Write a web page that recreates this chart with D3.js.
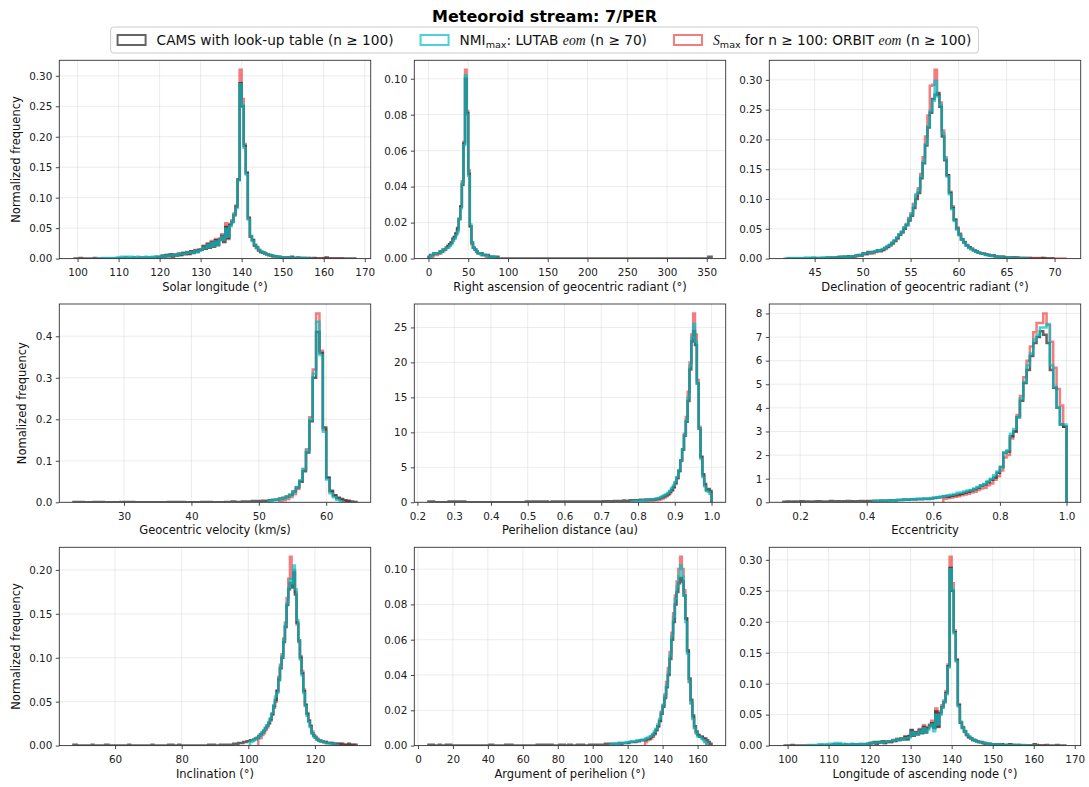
<!DOCTYPE html>
<html>
<head>
<meta charset="utf-8">
<script src="https://cdn.jsdelivr.net/npm/d3@7"></script>
<style>
body { margin: 0; background: #fff; }
text { font-family: "DejaVu Sans", sans-serif; }
</style>
</head>
<body>
<script>
// series order everywhere: CAMS look-up table, NMI_max LUTAB eom, S_max ORBIT eom
const seriesNames = ["CAMS", "NMI", "Smax"];

// bin width of each panel
const binWidths = [0.5, 2, 0.25, 0.5, 0.005, 0.01, 0.5, 1, 0.5];

// --- Solar longitude (deg) ---
const solLonStart = [99, 104.5, 119.5];
const solLonCams = [
  0,0,0,0.001,0,0,0,0,0,0,0.001,0,0,0,0,0,0,0,0,0,0,0,
  0.001,0.001,0.001,0.002,0.001,0.001,0.001,0.002,0.001,0.001,0.002,0.001,0.002,0.002,0.001,0.002,0.002,0.002,0.003,0.002,
  0.003,0.005,0.004,0.006,0.004,0.007,0.004,0.006,0.005,0.008,
  0.006,0.009,0.007,0.010,0.008,0.012,0.009,0.013,0.011,0.014,
  0.015,0.020,0.016,0.023,0.018,0.027,0.020,0.030,0.022,0.031,0.037,0.028,0.052,0.034,0.055,0.060,0.071,0.085,0.130,
  0.288,0.250,0.185,0.140,0.066,0.036,0.030,0.022,0.018,0.014,0.011,0.010,0.008,0.007,0.006,0.005,0.004,0.004,0.003,0.003,0.002,
  0.002,0.001,0.002,0.001,0.003,0.001,0.001,0.002,0.001,0.001,0.001,0,0.001,0,0,0.001,0,0,0,0,0,0.002,0,0,0,0,0,0,0,0,0,0,0,0,0,0
];
const solLonNmi = [
  0,0,0,0.001,0,0.001,0.001,0,0.001,0.001,0.002,
  0.002,0.003,0.002,0.003,0.003,0.002,0.003,0.002,0.002,0.003,0.002,0.002,0.002,0.003,0.002,0.002,0.003,0.002,0.003,0.003,
  0.003,0.004,0.004,0.005,0.004,0.006,0.005,0.006,0.005,0.007,
  0.007,0.008,0.008,0.010,0.009,0.011,0.010,0.012,0.011,0.013,
  0.015,0.018,0.017,0.022,0.019,0.026,0.021,0.028,0.023,0.030,0.036,0.030,0.049,0.036,0.053,0.060,0.072,0.083,0.128,
  0.286,0.252,0.182,0.138,0.064,0.037,0.029,0.023,0.017,0.014,0.012,0.010,0.008,0.007,0.006,0.005,0.005,0.004,0.003,0.003,0.002,
  0.002,0.002,0.001,0.002,0.001,0.001,0.001,0.001,0.001,0,0.001,0,0,0,0
];
const solLonSmax = [
  0.002,
  0.002,0.004,0.003,0.006,0.005,0.006,0.003,0.007,0.005,0.008,
  0.006,0.009,0.008,0.011,0.007,0.012,0.010,0.014,0.012,0.015,
  0.014,0.021,0.016,0.025,0.019,0.029,0.020,0.032,0.024,0.033,0.040,0.027,0.058,0.032,0.057,0.063,0.074,0.087,0.130,
  0.310,0.262,0.188,0.142,0.068,0.037,0.031,0.021,0.019,0.013,0.011,0.010,0.009,0.007,0.006,0.005,0.004,0.004,0.003,0.002,0.002,
  0.002,0.001,0.002,0.001,0.002,0.001,0.001,0.001,0.001,0,0.001,0,0,0.001,0,0,0,0,0,0,0.001,0,0,0,0,0,0,0,0,0
];

// --- Right ascension of geocentric radiant (deg) ---
const raStart = [0, 2, 4];
const raCams = [
  0.001,0.002,0.002,0.003,0.003,0.003,0.003,0.004,0.004,0.005,0.005,0.006,0.007,0.008,0.009,0.011,0.012,0.014,0.017,0.022,0.029,0.041,0.064,0.100,0.081,
  0.047,0.018,0.009,0.006,0.005,0.004,0.003,0.003,0.003,0.002,0.002,0.002,0.002,0.001,0.001,0.001,0.001,0.001,0.001,0,0,0,0,0,0,
  0,0,0,0,0,0,0,0,0,0,0,0,0,0,0,0,
  0,0,0,0,0,0,0,0,0,0,0,0,0,0,0,0,
  0,0,0,0,0,0,0,0,0,0,0,0,0,0,0,0,
  0,0,0,0,0,0,0,0,0,0,0,0,0,0,0,0,
  0,0,0,0,0,0,0,0,0,0,0,0,0,0,0,0,
  0,0,0,0,0,0,0,0,0,0,0,0,0,0,0,0,
  0,0,0,0,0,0,0,0,0,0,0,0,0,0,0,0,
  0,0,0,0,0,0,0,0,0,0,0,0,0,0,0.001,0.001
];
const raNmi = [
  0.001,0.002,0.003,0.003,0.003,0.003,0.003,0.004,0.005,0.005,0.006,0.006,0.007,0.008,0.010,0.011,0.013,0.015,0.022,0.028,0.042,0.063,0.102,0.080,
  0.046,0.019,0.009,0.006,0.005,0.004,0.003,0.003,0.002,0.002,0.002,0.002,0.001,0.001,0.001,0.001,0.001,0,0,0
];
const raSmax = [
  0.001,0.002,0.002,0.002,0.003,0.003,0.004,0.004,0.005,0.006,0.007,0.008,0.009,0.010,0.012,0.014,0.016,0.022,0.029,0.043,0.065,0.105,0.082,
  0.049,0.018,0.008,0.006,0.005,0.004,0.003,0.003,0.002,0.002,0.002,0.001,0.001,0.001,0.001,0.001,0,0,0
];

// --- Declination of geocentric radiant (deg) ---
const decStart = [42, 41.75, 46.5];
const decCams = [
  0,0,0,0,0,0,0,0,0,0,0.001,0,0.001,0.001,0.001,0.001,0.001,0.002,0.001,0.002,
  0.002,0.002,0.003,0.002,0.003,0.003,0.004,0.003,
  0.004,0.005,0.006,0.005, 0.009,0.008,0.011,0.010, 0.011,0.012,0.014,0.013, 0.015,0.018,0.020,0.023,
  0.026,0.030,0.034,0.040, 0.044,0.050,0.056,0.064, 0.072,0.085,0.100,0.110, 0.135,0.160,0.190,0.220,
  0.245,0.268,0.275,0.278, 0.255,0.205,0.165,0.140, 0.110,0.085,0.065,0.050, 0.040,0.032,0.027,0.022,
  0.019,0.016,0.014,0.012, 0.010,0.009,0.008,0.007, 0.006,0.005,0.005,0.004, 0.003,0.003,0.003,0.002,
  0.002,0.002,0.002,0.001,0.002,0.001,0.001,0.001,
  0.001,0.001,0,0,0,0,0,0.001,0,0,0,0
];
const decNmi = [
  0,
  0,0.001,0,0.001,0.001,0.001,0.001,0.001,0.002,0.001,0.001,0.002,0.001,0.001,0.001,0.002,0.001,0.002,0.002,0.002,
  0.002,0.002,0.002,0.003,0.003,0.003,0.003,0.004,
  0.004,0.005,0.005,0.006, 0.008,0.009,0.009,0.010, 0.011,0.012,0.013,0.014, 0.016,0.018,0.021,0.023,
  0.027,0.031,0.036,0.041, 0.045,0.052,0.057,0.066, 0.075,0.090,0.108,0.115, 0.138,0.162,0.192,0.222,
  0.248,0.265,0.298,0.272, 0.258,0.210,0.168,0.138, 0.108,0.083,0.063,0.049, 0.039,0.032,0.026,0.022,
  0.018,0.016,0.014,0.012, 0.010,0.009,0.008,0.006, 0.006,0.005,0.004,0.004, 0.003,0.003,0.002,0.002,
  0.002,0.002,0.001,0.001,0.001,0.001,0.001,0,0,0
];
const decSmax = [
  0.001,0.001,
  0.001,0.002,0.002,0.002,0.003,0.002,0.003,0.003,
  0.003,0.004,0.005,0.005, 0.007,0.007,0.009,0.008, 0.009,0.011,0.012,0.012, 0.014,0.016,0.019,0.022,
  0.025,0.029,0.034,0.040, 0.045,0.052,0.058,0.068, 0.076,0.092,0.106,0.118, 0.142,0.170,0.205,0.240,
  0.290,0.292,0.317,0.275, 0.262,0.215,0.170,0.140, 0.112,0.088,0.066,0.052, 0.042,0.033,0.028,0.023,
  0.019,0.017,0.014,0.012, 0.010,0.009,0.008,0.007, 0.006,0.005,0.005,0.004, 0.003,0.003,0.003,0.002,
  0.002,0.002,0.002,0.002,0.001,0.001,0.001,0.001,
  0.001,0.001,0.001,0.001,0.001,0,0.001,0,0,0,0,0,0,0,0,0,0
];

// --- Geocentric velocity (km/s) ---
const vgStart = [22.5, 51.5, 53];
const vgCams = [
  0.001,0.001,0.001,0,0,
  0,0.001,0.001,0.001,0,0,0,0,0,0.001,
  0.001,0.001,0.001,0,0,0,0,0,0,0,
  0,0,0,0.001,0.001,0.001,0.001,0.001,0,0,
  0,0,0,0.001,0.001,0.001,0,0,0,0,
  0.001,0.001,0.002,0.001,0.001,0.002,0.002,0.002,0.003,0.003,
  0.003,0.004,0.004,0.005,0.006,0.007,0.009,0.011,0.014,0.018,
  0.026,0.036,0.050,0.075,0.120,0.195,0.300,0.410,0.360,0.180,
  0.060,0.028,0.017,0.011,0.008,0.005,0.004,0.002,0.001
];
const vgNmi = [
  0.004,0.005,0.006,0.008,0.010,0.013,0.017,
  0.025,0.037,0.053,0.080,0.125,0.200,0.310,0.435,0.355,0.170,
  0.055,0.022,0.012,0.006,0.002
];
const vgSmax = [
  0.003,0.005,0.008,0.013,
  0.020,0.032,0.050,0.080,0.128,0.205,0.320,0.455,0.365,0.175,
  0.058,0.025,0.015,0.009,0.006,0.003,0.002
];

// --- Perihelion distance (au) ---
const qStart = [0.23, 0.785, 0.82];
const qCams = [
  0.1,0.1,0.1,0,0,0,0,0,0,0,0,0.1,0.1,0.1,
  0.1,0,0.1,0.1,0.1,0.1,0,0,0,0,0,0,0,0,0,0,0,0,0,0,
  0,0,0,0,0,0,0,0,0,0,0,0,0,0,0,0,0,0,0,0.1,
  0.1,0.1,0,0.1,0.1,0,0.1,0,0.1,0.1,0.1,0,0,0.1,0.1,0,0.1,0.1,0.1,0.1,
  0.1,0.1,0.1,0.1,0.1,0.1,0.1,0.1,0.1,0.1,0.1,0.1,0.1,0.1,0.1,0.1,0.1,0.1,0.1,0.1,
  0.1,0.15,0.1,0.15,0.15,0.1,0.15,0.2,0.15,0.2,0.2,0.15,0.25,0.2,0.2,0.25,0.3,0.25,0.3,0.3,
  0.3,0.35,0.3,0.35,0.4,0.35,0.4,0.45,0.4,0.45,
  0.5,0.55,0.65,0.75,0.9,1.0,1.2,1.5,1.8,2.2,
  2.8,3.5,4.5,6.0,7.5,9.5,11.5,14.5,19.0,23.0,
  24.5,22.5,17.0,10.5,6.5,4.0,2.6,1.8,1.9,1.6
];
const qNmi = [
  0.1,0.15,0.15,
  0.2,0.2,0.25,0.3,0.3,0.35,0.4,0.4,0.45,0.5,
  0.55,0.6,0.7,0.85,1.0,1.15,1.35,1.6,2.0,2.4,
  2.9,3.6,4.6,6.0,7.6,9.6,11.8,15.0,19.5,23.5,
  25.5,23.0,17.0,10.5,6.2,3.6,2.3,1.6,1.5,1.2
];
const qSmax = [
  0.1,0.15,0.2,0.2,0.25,0.3,
  0.3,0.35,0.45,0.55,0.7,0.85,1.05,1.3,1.65,2.1,
  2.6,3.4,4.4,5.9,7.6,9.8,12.2,15.8,20.0,24.0,
  27.0,24.0,17.5,10.8,6.4,3.8,2.4,1.7,1.6,1.3
];

// --- Eccentricity ---
const eStart = [0.15, 0.42, 0.63];
const eCams = [
  0.02,0.03,0.02,0.03,0.02,0.04,0.03,0.03,0.02,0.03,0.04,0.03,0.02,0.03,0.05,0.03,0.04,0.03,0.04,0.05,0.04,0.03,0.04,0.05,0.04,
  0.06,0.05,0.07,0.06,0.08,0.07,0.08,0.09,0.08,0.10,
  0.10,0.12,0.11,0.13,0.12,0.14,0.13,0.15,0.14,0.16,
  0.18,0.20,0.22,0.26,0.24,0.28,0.30,0.33,0.36,0.40,
  0.45,0.50,0.55,0.62,0.70,0.75,0.85,0.95,1.05,1.25,
  1.50,2.10,2.15,2.80,3.00,3.60,4.30,5.05,5.60,6.20,
  6.75,7.00,7.25,7.10,6.75,5.60,4.85,4.00,3.30,3.20
];
const eNmi = [
  0.04,0.05,0.06,0.07,0.07,0.08,0.09,0.10,
  0.11,0.12,0.12,0.13,0.14,0.14,0.15,0.16,0.16,0.18,
  0.20,0.22,0.24,0.27,0.30,0.32,0.35,0.40,0.42,0.46,
  0.50,0.52,0.58,0.65,0.72,0.78,0.90,1.00,1.15,1.30,
  1.50,2.10,2.20,2.90,3.10,3.60,4.40,5.10,5.80,6.30,
  6.90,7.10,7.40,7.40,7.55,5.80,4.90,4.00,3.30,3.30
];
const eSmax = [
  0.15,0.18,0.20,0.24,0.26,0.30,0.33,
  0.36,0.42,0.45,0.52,0.58,0.62,0.72,0.80,0.95,1.10,
  1.35,1.90,2.00,2.70,3.00,3.70,4.50,5.30,6.00,6.60,
  7.20,7.60,7.60,8.00,7.50,6.80,5.70,4.80,4.10,3.20
];

// --- Inclination (deg) ---
const incStart = [47.5, 100.5, 103];
const incCams = [
  0.001,0.001,0,0,0,0,0,0,0,0,0,0.001,0,0,0,0,0,0,0,0.001,0.001,0,0,0,0,
  0,0,0,0,0,0,0,0,0.001,0,0,0,0,0,0,0,0,0,0,0,0,0,0.001,0,0,0,0,0,0,0,0,0,0.001,0.001,0.001,0,0,0,0.001,0,
  0,0,0,0,0,0,0,0,0,0,0,0,0,0,0,0,0.001,0.001,0.001,0.001,0,0,0,0.001,0.001,0.001,0.001,0.001,0.001,0.001,
  0.001,0.002,0.002,0.002,0.003,0.003,0.003,0.004,0.004,0.005,
  0.005,0.006,0.006,0.007,0.008,0.009,0.011,0.013,0.015,0.017,
  0.020,0.023,0.026,0.030,0.036,0.045,0.052,0.062,0.075,0.088,
  0.100,0.118,0.135,0.160,0.178,0.185,0.180,0.197,0.172,0.140,
  0.120,0.100,0.082,0.062,0.046,0.036,0.028,0.022,0.014,0.011,
  0.009,0.007,0.006,0.005,0.005,0.004,0.004,0.003,0.003,0.003,
  0.003,0.002,0.002,0.002,0.002,0.001,0.002,0.001,0.001,0.001,0.002,0.001,0.001,0.001,0.001
];
const incNmi = [
  0.004,0.005,0.006,0.007,0.008,0.010,0.012,0.014,0.017,
  0.020,0.023,0.027,0.031,0.037,0.046,0.056,0.060,0.074,0.090,
  0.102,0.120,0.138,0.162,0.180,0.190,0.185,0.205,0.178,0.143,
  0.120,0.098,0.080,0.060,0.045,0.034,0.027,0.021,0.014,0.011,
  0.009,0.007,0.006,0.005,0.005,0.004,0.003,0.003,0.003,0.002,0.002,0.002,0.001,0.001
];
const incSmax = [
  0.008,0.009,0.012,0.014,
  0.018,0.021,0.025,0.029,0.035,0.043,0.050,0.063,0.078,0.092,
  0.104,0.122,0.140,0.168,0.190,0.215,0.190,0.200,0.175,0.138,
  0.118,0.102,0.085,0.064,0.047,0.037,0.029,0.023,0.016,0.012,
  0.010,0.008,0.006,0.006,0.005,0.004,0.004,0.003,0.003,0.003,
  0.002,0.002,0.002,0.002,0.001,0.002,0.001,0.001,0.001,0.001,0.001,0.001,0.001,0.001
];

// --- Argument of perihelion (deg) ---
const argStart = [6, 110, 130];
const argCams = [
  0.0005,0.0005,0.0005,0,0,0,0.0005,0,0,0,0.0005,0.0005,0.0005,0,
  0,0,0,0,0,0,0,0,0,0,0,0,0,0,0,0,0,0,0,0,
  0,0.0005,0.0005,0,0,0,0,0,0,0,0.0005,0.0005,0.0005,0.0005,0,0,0,0,0,0,
  0,0,0,0,0,0,0,0,0.0005,0.0005,0.0005,0.0005,0.0005,0,0.0005,0.0005,0.0005,0,0,0,
  0,0.0005,0.0005,0.0005,0,0,0.0005,0.0005,0,0,0,0.0005,0.0005,0,0.0005,0,0,0,0.0005,0.0005,
  0.0005,0.0005,0.0005,0.0005,0.0005,0.0005,0.0005,0.001,0.0005,0.001,0.001,0.001,0.001,0.001,0.001,0.0015,0.001,0.0015,0.0015,0.0015,
  0.0015,0.002,0.002,0.002,0.002,0.0025,0.0025,0.003,0.003,0.003,
  0.0035,0.004,0.004,0.005,0.006,0.007,0.009,0.011,0.014,0.018,
  0.022,0.027,0.033,0.040,0.049,0.060,0.070,0.080,0.087,0.092,
  0.095,0.093,0.085,0.072,0.054,0.038,0.026,0.017,0.011,0.008,
  0.006,0.005,0.005,0.004,0.004,0.003,0.002,0.001
];
const argNmi = [
  0.0005,0.001,0.001,0.001,0.001,0.0015,0.0015,0.0015,0.0015,0.002,
  0.002,0.002,0.0025,0.0025,0.0025,0.003,0.003,0.003,0.0035,0.0035,
  0.004,0.0045,0.005,0.0055,0.0065,0.008,0.0095,0.012,0.015,0.019,
  0.023,0.028,0.034,0.042,0.051,0.062,0.073,0.083,0.090,0.096,
  0.102,0.096,0.085,0.070,0.052,0.036,0.024,0.015,0.010,0.007,
  0.005,0.005,0.004,0.003,0.002,0.001
];
const argSmax = [
  0.002,0.003,0.0035,0.004,0.005,0.0065,0.0085,0.011,0.014,0.019,
  0.023,0.029,0.036,0.044,0.053,0.064,0.075,0.085,0.093,0.100,
  0.107,0.100,0.088,0.072,0.053,0.036,0.024,0.016,0.010,0.007,
  0.006,0.005,0.005,0.004,0.002,0.001
];

// --- Longitude of ascending node (deg) ---
const nodeStart = [99, 104.5, 119.5];
const nodeCams = [
  0,0,0,0,0.001,0,0,0,0,0,0,0,0,0,0,0,0,0,0.001,0,0,0.001,
  0.001,0.001,0.002,0.001,0.002,0.002,0.001,0.001,0.002,0.001,0.001,0.002,0.001,0.002,0.001,0.002,0.002,0.002,0.002,0.003,
  0.004,0.004,0.006,0.003,0.006,0.005,0.007,0.004,0.006,0.007,
  0.006,0.008,0.008,0.010,0.009,0.011,0.010,0.014,0.010,0.015,
  0.025,0.016,0.021,0.018,0.025,0.020,0.030,0.021,0.028,0.032,0.036,0.029,0.055,0.031,0.052,0.062,0.070,0.085,0.128,
  0.287,0.250,0.183,0.138,0.065,0.037,0.029,0.023,0.017,0.014,0.012,0.009,0.008,0.007,0.006,0.006,0.004,0.003,0.003,0.003,0.002,
  0.002,0.001,0.002,0.001,0.002,0.001,0.001,0.001,0.002,0.001,0.001,0,0.001,0,0,0,0,0,0,0,0.002,0.001,0,0,0,0,0.001,0,0,0,0,0.001,0,0,0,0
];
const nodeNmi = [
  0,0.001,0,0.001,0.001,0.001,0.002,0.001,0.002,0.002,0.002,
  0.003,0.002,0.003,0.004,0.003,0.004,0.003,0.003,0.002,0.002,0.002,0.003,0.002,0.002,0.002,0.003,0.002,0.003,0.003,0.003,
  0.004,0.005,0.004,0.005,0.005,0.006,0.005,0.006,0.006,0.007,
  0.007,0.008,0.009,0.010,0.009,0.011,0.010,0.012,0.012,0.013,
  0.022,0.017,0.020,0.019,0.024,0.021,0.028,0.022,0.026,0.031,0.034,0.023,0.050,0.034,0.050,0.061,0.071,0.083,0.126,
  0.285,0.252,0.181,0.136,0.063,0.038,0.028,0.024,0.017,0.015,0.012,0.010,0.008,0.007,0.006,0.005,0.005,0.004,0.003,0.003,0.002,
  0.002,0.002,0.001,0.002,0.001,0.001,0.001,0.001,0.001,0.001,0.001,0,0.001,0,0,0.001,0,0,0,0,0,0
];
const nodeSmax = [
  0.002,
  0.003,0.004,0.005,0.004,0.005,0.006,0.006,0.004,0.007,0.007,
  0.006,0.009,0.007,0.011,0.009,0.012,0.011,0.015,0.011,0.016,
  0.024,0.017,0.022,0.019,0.027,0.021,0.033,0.022,0.030,0.034,0.040,0.028,0.060,0.030,0.055,0.065,0.073,0.088,0.131,
  0.305,0.262,0.186,0.140,0.067,0.038,0.030,0.022,0.018,0.013,0.012,0.009,0.009,0.007,0.006,0.005,0.004,0.004,0.003,0.002,0.002,
  0.002,0.001,0.002,0.001,0.002,0.001,0.001,0.001,0.002,0,0.001,0,0,0.001,0,0,0,0,0,0,0.001,0,0,0,0,0
];

// axis labels and ticks
const xLabels = ["Solar longitude (°)", "Right ascension of geocentric radiant (°)", "Declination of geocentric radiant (°)",
  "Geocentric velocity (km/s)", "Perihelion distance (au)", "Eccentricity",
  "Inclination (°)", "Argument of perihelion (°)", "Longitude of ascending node (°)"];
const yLabels = ["Normalized frequency", "Nomalized frequency", "Normalized frequency"];
const xTicks = [
  [100, 110, 120, 130, 140, 150, 160, 170], [0, 50, 100, 150, 200, 250, 300, 350], [45, 50, 55, 60, 65, 70],
  [30, 40, 50, 60], [0.2, 0.3, 0.4, 0.5, 0.6, 0.7, 0.8, 0.9, 1.0], [0.2, 0.4, 0.6, 0.8, 1.0],
  [60, 80, 100, 120], [0, 20, 40, 60, 80, 100, 120, 140, 160], [100, 110, 120, 130, 140, 150, 160, 170]];
const yTicks = [
  [0, 0.05, 0.10, 0.15, 0.20, 0.25, 0.30], [0, 0.02, 0.04, 0.06, 0.08, 0.10], [0, 0.05, 0.10, 0.15, 0.20, 0.25, 0.30],
  [0, 0.1, 0.2, 0.3, 0.4], [0, 5, 10, 15, 20, 25], [0, 1, 2, 3, 4, 5, 6, 7, 8],
  [0, 0.05, 0.10, 0.15, 0.20], [0, 0.02, 0.04, 0.06, 0.08, 0.10], [0, 0.05, 0.10, 0.15, 0.20, 0.25, 0.30]];
const xFormats = [".0f", ".0f", ".0f", ".0f", ".1f", ".1f", ".0f", ".0f", ".0f"];
const yFormats = [".2f", ".2f", ".2f", ".1f", ".0f", ".0f", ".2f", ".2f", ".2f"];

const panelData = [
  [solLonStart, solLonCams, solLonNmi, solLonSmax],
  [raStart, raCams, raNmi, raSmax],
  [decStart, decCams, decNmi, decSmax],
  [vgStart, vgCams, vgNmi, vgSmax],
  [qStart, qCams, qNmi, qSmax],
  [eStart, eCams, eNmi, eSmax],
  [incStart, incCams, incNmi, incSmax],
  [argStart, argCams, argNmi, argSmax],
  [nodeStart, nodeCams, nodeNmi, nodeSmax]
];

// ---- layout ----
const width = 1089, height = 787;
const colX = [59.3, 414.3, 769.3], rowY = [60.3, 304, 547.3];
const pw = 311.4, ph = 198.3;
const ylabX = [16, 22.1, 16];

const colors = ["#222222", "#00bfc4", "#ee4444"];
const lineAlpha = 0.7;
const lineW = 2.5;
const drawOrder = [2, 0, 1];

const svg = d3.select("body").append("svg")
    .attr("width", width)
    .attr("height", height);
svg.append("rect").attr("width", width).attr("height", height).attr("fill", "#fff");

const line = d3.line();

panelData.forEach((pd, k) => {
  const r = Math.floor(k / 3), c = k % 3;
  const bw = binWidths[k];
  const g = svg.append("g").attr("transform", `translate(${colX[c]},${rowY[r]})`);

  const hists = [1, 2, 3].map(j => {
    const start = pd[0][j - 1], vals = pd[j];
    const edges = d3.range(vals.length + 1).map(i => start + i * bw);
    return { edges, vals };
  });

  const lo = d3.min(hists, h => h.edges[0]);
  const hi = d3.max(hists, h => h.edges[h.edges.length - 1]);
  const pad = (hi - lo) * 0.05;
  const x = d3.scaleLinear().domain([lo - pad, hi + pad]).range([0, pw]);
  const y = d3.scaleLinear().domain([0, d3.max(hists, h => d3.max(h.vals)) * 1.05]).range([ph, 0]);

  // grid
  g.append("g").selectAll("line").data(xTicks[k]).join("line")
    .attr("x1", d => x(d)).attr("x2", d => x(d)).attr("y1", 0).attr("y2", ph)
    .attr("stroke", "#b0b0b0").attr("stroke-opacity", 0.3).attr("stroke-width", 0.8);
  g.append("g").selectAll("line").data(yTicks[k]).join("line")
    .attr("x1", 0).attr("x2", pw).attr("y1", d => y(d)).attr("y2", d => y(d))
    .attr("stroke", "#b0b0b0").attr("stroke-opacity", 0.3).attr("stroke-width", 0.8);

  // histograms (step outline)
  const clipId = "clip" + k;
  g.append("clipPath").attr("id", clipId).append("rect").attr("width", pw).attr("height", ph);
  const hg = g.append("g").attr("clip-path", `url(#${clipId})`);
  drawOrder.forEach(j => {
    const h = hists[j];
    const pts = [[x(h.edges[0]), y(0)]];
    h.vals.forEach((v, i) => {
      pts.push([x(h.edges[i]), y(v)], [x(h.edges[i + 1]), y(v)]);
    });
    pts.push([x(h.edges[h.edges.length - 1]), y(0)]);
    hg.append("path")
      .attr("d", line(pts))
      .attr("fill", "none")
      .attr("stroke", colors[j])
      .attr("stroke-opacity", lineAlpha)
      .attr("stroke-width", lineW)
      .attr("stroke-linejoin", "miter");
  });

  // axes
  const ax = g.append("g").attr("transform", `translate(0,${ph})`)
    .call(d3.axisBottom(x).tickValues(xTicks[k]).tickFormat(d3.format(xFormats[k])).tickSize(3.5).tickPadding(3.5));
  const ay = g.append("g")
    .call(d3.axisLeft(y).tickValues(yTicks[k]).tickFormat(d3.format(yFormats[k])).tickSize(3.5).tickPadding(3.5));
  [ax, ay].forEach(a => {
    a.select(".domain").remove();
    a.selectAll("line").attr("stroke", "#333").attr("stroke-width", 0.9);
    a.selectAll("text").attr("fill", "#222").style("font-size", "10.4px")
      .style("font-family", "'DejaVu Sans', sans-serif");
  });
  ax.selectAll("text").attr("dy", "1em");

  g.append("rect").attr("width", pw).attr("height", ph)
    .attr("fill", "none").attr("stroke", "#333").attr("stroke-width", 0.9);

  g.append("text")
    .attr("x", pw / 2).attr("y", ph + 32)
    .attr("text-anchor", "middle")
    .style("font-size", "11.5px").attr("fill", "#111")
    .text(xLabels[k]);

  if (c === 0) {
    svg.append("text")
      .attr("transform", `translate(${ylabX[r]},${rowY[r] + ph / 2}) rotate(-90)`)
      .attr("text-anchor", "middle").attr("dy", "0.35em")
      .style("font-size", "11.5px").attr("fill", "#111")
      .text(yLabels[r]);
  }
});

// title
svg.append("text")
  .attr("x", width / 2).attr("y", 22)
  .attr("text-anchor", "middle")
  .style("font-size", "16px").style("font-weight", "bold")
  .text("Meteoroid stream: 7/PER");

// legend
const legFont = 13.7;
const leg = svg.append("g");
const legBox = leg.append("rect");

function legendText(gItem, j) {
  const t = gItem.append("text").attr("y", 0).style("font-size", legFont + "px").attr("fill", "#111");
  if (j === 0) {
    t.text("CAMS with look-up table (n ≥ 100)");
  } else if (j === 1) {
    t.append("tspan").text("NMI");
    t.append("tspan").attr("dy", 3).style("font-size", "70%").text("max");
    t.append("tspan").attr("dy", -3).text(": LUTAB ");
    t.append("tspan").style("font-family", "'Liberation Serif', serif").style("font-style", "italic").text("eom");
    t.append("tspan").text(" (n ≥ 70)");
  } else {
    t.append("tspan").style("font-family", "'Liberation Serif', serif").style("font-style", "italic").text("S");
    t.append("tspan").attr("dy", 3).style("font-size", "70%").text("max");
    t.append("tspan").attr("dy", -3).text(" for n ≥ 100: ORBIT ");
    t.append("tspan").style("font-family", "'Liberation Serif', serif").style("font-style", "italic").text("eom");
    t.append("tspan").text(" (n ≥ 100)");
  }
  return t;
}

let cx = 0;
[0, 1, 2].forEach(j => {
  const gi = leg.append("g").attr("transform", `translate(${cx},0)`);
  gi.append("rect").attr("x", 0).attr("y", -10).attr("width", 28).attr("height", 10)
    .attr("fill", "none").attr("stroke", colors[j]).attr("stroke-opacity", lineAlpha).attr("stroke-width", 2);
  const t = legendText(gi, j).attr("x", 39);
  const tw = t.node().getComputedTextLength();
  cx += 39 + tw + 27;
});
const innerW = cx - 27;
const boxW = innerW + 14;
const boxX = width / 2 - boxW / 2;
leg.attr("transform", `translate(${boxX + 7},45)`);
legBox.attr("x", -7).attr("y", -18).attr("width", boxW).attr("height", 26)
  .attr("rx", 3).attr("fill", "#fff").attr("fill-opacity", 0.8)
  .attr("stroke", "#cccccc").attr("stroke-width", 1);
</script>
</body>
</html>
